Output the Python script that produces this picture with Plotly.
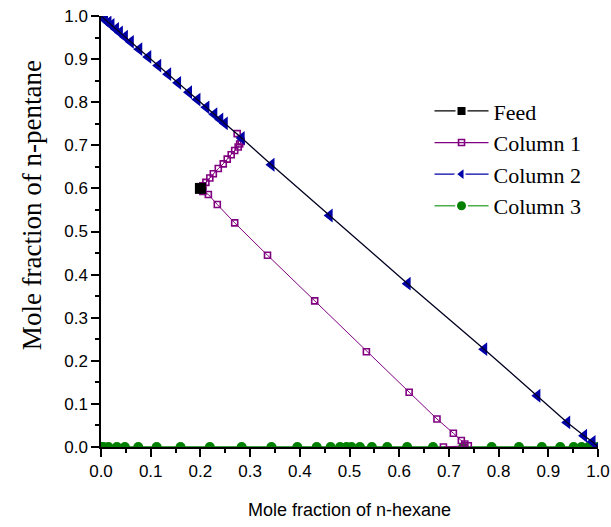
import plotly.graph_objects as go

# ---------------- data ----------------
feed_x = [0.2]
feed_y = [0.6]

col1_x = [0.274, 0.282, 0.279, 0.276, 0.269, 0.262, 0.254, 0.246, 0.236, 0.226, 0.219, 0.211,
          0.205, 0.202, 0.205, 0.216, 0.234, 0.269, 0.335, 0.430, 0.534, 0.620, 0.676, 0.709,
          0.725, 0.732, 0.739, 0.689]
col1_y = [0.727, 0.709, 0.703, 0.696, 0.688, 0.678, 0.668, 0.657, 0.646, 0.634, 0.624, 0.614,
          0.606, 0.599, 0.593, 0.586, 0.5625, 0.520, 0.445, 0.339, 0.221, 0.127, 0.065, 0.032,
          0.015, 0.007, 0.003, 0.0]

col2_x = [0.0, 0.004, 0.008, 0.015, 0.021, 0.030, 0.038, 0.048, 0.060, 0.077, 0.095, 0.115,
          0.135, 0.155, 0.177, 0.194, 0.212, 0.228, 0.240, 0.249, 0.283, 0.343, 0.460, 0.617,
          0.771, 0.878, 0.938, 0.972, 0.989, 1.0]
col2_y = [1.0, 0.996, 0.992, 0.985, 0.979, 0.970, 0.962, 0.952, 0.940, 0.923, 0.905, 0.885,
          0.865, 0.845, 0.823, 0.806, 0.788, 0.772, 0.760, 0.751, 0.717, 0.655, 0.537, 0.379,
          0.227, 0.119, 0.057, 0.026, 0.012, 0.0]

col3_x = [0.0, 0.005, 0.015, 0.032, 0.048, 0.075, 0.112, 0.160, 0.219, 0.283, 0.343, 0.395,
          0.434, 0.462, 0.481, 0.494, 0.504, 0.521, 0.545, 0.576, 0.616, 0.668, 0.729, 0.786,
          0.841, 0.887, 0.924, 0.951, 0.967, 0.981, 0.991, 1.0]
col3_y = [0.0, 0.0, 0.0, 0.0, 0.0, 0.0, 0.0, 0.0, 0.0, 0.0, 0.0, 0.0,
          0.0, 0.0, 0.0, 0.0, 0.0, 0.0, 0.0, 0.0, 0.0, 0.0, 0.0, 0.0,
          0.0, 0.0, 0.0, 0.0, 0.0, 0.0, 0.0, 0.0]

tick_vals = [0.0, 0.1, 0.2, 0.3, 0.4, 0.5, 0.6, 0.7, 0.8, 0.9, 1.0]
tick_text = ["0.0", "0.1", "0.2", "0.3", "0.4", "0.5", "0.6", "0.7", "0.8", "0.9", "1.0"]

legend_names = ["Feed", "Column 1", "Column 2", "Column 3"]

PURPLE = "#800080"
NAVY = "#0000a8"
GREEN = "#008000"

fig = go.Figure()

# Column 3
fig.add_trace(go.Scatter(x=col3_x, y=col3_y, mode="lines+markers", showlegend=False,
                         line=dict(color=GREEN, width=1.5),
                         marker=dict(symbol="circle", size=10, color=GREEN)))
# Column 1
fig.add_trace(go.Scatter(x=col1_x, y=col1_y, mode="lines+markers", showlegend=False,
                         line=dict(color=PURPLE, width=1),
                         marker=dict(symbol="square-open", size=6, color=PURPLE,
                                     line=dict(width=1.6, color=PURPLE))))
# Column 2 markers
fig.add_trace(go.Scatter(x=col2_x, y=col2_y, mode="markers", showlegend=False,
                         marker=dict(symbol="triangle-left", size=12, color=NAVY)))
# Column 2 connecting line (black)
fig.add_trace(go.Scatter(x=col2_x, y=col2_y, mode="lines", showlegend=False,
                         line=dict(color="#000020", width=1.3)))
# Feed
fig.add_trace(go.Scatter(x=feed_x, y=feed_y, mode="markers", showlegend=False,
                         marker=dict(symbol="square", size=11, color="black")))

# legend entries
leg_styles = [
    dict(line=dict(color="black", width=1.3),
         marker=dict(symbol="square", size=10, color="black", line=dict(color="white", width=2))),
    dict(line=dict(color=PURPLE, width=1.3),
         marker=dict(symbol="square-open", size=6, color=PURPLE, line=dict(color=PURPLE, width=1.6))),
    dict(line=dict(color=NAVY, width=1.3),
         marker=dict(symbol="triangle-left", size=12, color=NAVY, line=dict(color="white", width=2))),
    dict(line=dict(color="#4caf4c", width=1.3),
         marker=dict(symbol="circle", size=11, color=GREEN, line=dict(color="white", width=2))),
]
for name, st in zip(legend_names, leg_styles):
    fig.add_trace(go.Scatter(x=[None], y=[None], mode="lines+markers", name=name, **st))

axis_common = dict(
    range=[0, 1], tickmode="array", tickvals=tick_vals, ticktext=tick_text,
    ticks="outside", ticklen=8, tickwidth=1.5, tickcolor="black",
    showline=True, linecolor="black", linewidth=1.5, mirror=False,
    showgrid=False, zeroline=False, automargin=False,
    tickfont=dict(family="Liberation Sans, Arial", size=17, color="black"),
    minor=dict(tickmode="array",
               tickvals=[0.05, 0.15, 0.25, 0.35, 0.45, 0.55, 0.65, 0.75, 0.85, 0.95],
               ticks="outside", ticklen=4, tickwidth=1.5, tickcolor="black", showgrid=False),
)

fig.update_layout(
    width=611, height=527,
    margin=dict(l=101, r=13, t=16, b=80, autoexpand=False),
    paper_bgcolor="white", plot_bgcolor="white",
    xaxis=axis_common,
    yaxis=axis_common,
    showlegend=True,
    legend=dict(x=0.661, y=0.828, xanchor="left", yanchor="top",
                bgcolor="rgba(0,0,0,0)", borderwidth=0,
                itemwidth=54, tracegroupgap=0,
                font=dict(family="Liberation Serif, Times New Roman", size=22, color="black")),
    annotations=[
        dict(text="Mole fraction of n-hexane", xref="paper", yref="paper",
             x=0.501, y=-0.146, xanchor="center", yanchor="middle", showarrow=False,
             font=dict(family="Liberation Sans, Arial", size=18, color="black")),
        dict(text="Mole fraction of n-pentane", xref="paper", yref="paper",
             x=-0.139, y=0.561, xanchor="center", yanchor="middle", showarrow=False,
             textangle=-90,
             font=dict(family="Liberation Serif, Times New Roman", size=27, color="black")),
    ],
)

fig.write_html("out.html")
